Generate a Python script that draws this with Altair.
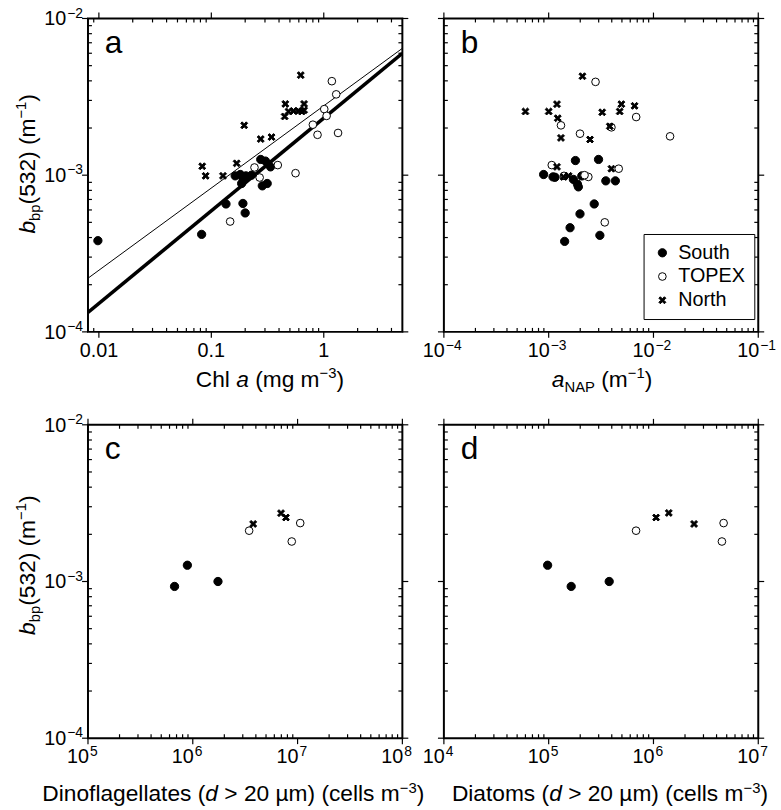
import altair as alt
import pandas as pd

FONT = "Liberation Sans"
W, H = 318, 317
YDOM = [1e-4, 1e-2]
REGIONS = ["South", "TOPEX", "North"]

# ---------------- data ----------------
# panel a : Chl a (mg m-3) vs bbp(532)
a_south_chl = [0.0098, 0.082, 0.135, 0.191, 0.200, 0.163, 0.181, 0.192, 0.203, 0.186, 0.228, 0.275, 0.303, 0.336, 0.284, 0.314]
a_south_bbp = [3.82e-4, 4.19e-4, 6.55e-4, 6.6e-4, 5.74e-4, 9.9e-4, 1.01e-3, 9.4e-4, 9.9e-4, 8.85e-4, 1.0e-3, 1.26e-3, 1.23e-3, 1.13e-3, 8.55e-4, 8.85e-4]
a_topex_chl = [0.147, 0.242, 0.269, 0.39, 0.561, 0.80, 0.88, 1.01, 1.06, 1.18, 1.29, 1.34]
a_topex_bbp = [5.06e-4, 1.12e-3, 9.66e-4, 1.16e-3, 1.03e-3, 2.1e-3, 1.81e-3, 2.64e-3, 2.39e-3, 3.98e-3, 3.28e-3, 1.86e-3]
a_north_chl = [0.083, 0.089, 0.127, 0.168, 0.196, 0.275, 0.343, 0.455, 0.449, 0.486, 0.538, 0.595, 0.637, 0.668, 0.668, 0.624]
a_north_bbp = [1.14e-3, 9.9e-4, 9.9e-4, 1.19e-3, 2.08e-3, 1.7e-3, 1.75e-3, 2.85e-3, 2.37e-3, 2.55e-3, 2.57e-3, 2.57e-3, 2.55e-3, 2.85e-3, 2.6e-3, 4.35e-3]
fit_chl = [0.008, 5.0]
fit_thick_bbp = [1.33e-4, 6.0e-3]
fit_thin_bbp = [2.2e-4, 6.45e-3]

# panel b : aNAP (m-1) vs bbp(532)
b_south_anap = [8.95e-4, 1.1e-3, 1.15e-3, 1.8e-3, 2.99e-3, 1.72e-3, 1.88e-3, 1.92e-3, 2.07e-3, 3.51e-3, 4.33e-3, 2.72e-3, 1.99e-3, 1.6e-3, 1.42e-3, 3.08e-3]
b_south_bbp = [1.01e-3, 9.75e-4, 9.7e-4, 1.24e-3, 1.26e-3, 9.4e-4, 8.77e-4, 8.42e-4, 9.89e-4, 9.2e-4, 9.2e-4, 6.55e-4, 5.66e-4, 4.62e-4, 3.78e-4, 4.13e-4]
b_topex_anap = [2.8e-3, 1.31e-3, 1.99e-3, 3.97e-3, 6.84e-3, 1.44e-2, 1.07e-3, 4.66e-3, 2.39e-3, 2.2e-3, 3.43e-3, 1.4e-3]
b_topex_bbp = [3.94e-3, 2.08e-3, 1.84e-3, 2.02e-3, 2.35e-3, 1.77e-3, 1.16e-3, 1.1e-3, 9.75e-4, 1.0e-3, 5.0e-4, 9.9e-4]
b_north_anap = [6.0e-4, 1.0e-3, 1.2e-3, 1.22e-3, 1.31e-3, 2.1e-3, 3.24e-3, 2.48e-3, 3.83e-3, 4.76e-3, 4.94e-3, 6.6e-3, 1.2e-3, 1.39e-3, 1.55e-3, 3.97e-3]
b_north_bbp = [2.55e-3, 2.55e-3, 2.84e-3, 2.31e-3, 1.73e-3, 4.28e-3, 2.52e-3, 1.69e-3, 2.05e-3, 2.55e-3, 2.84e-3, 2.77e-3, 1.13e-3, 9.75e-4, 9.9e-4, 1.1e-3]

# panel c : dinoflagellates (cells m-3) vs bbp(532)
c_south_dino = [6.7e5, 8.88e5, 1.74e6]
c_south_bbp = [9.3e-4, 1.27e-3, 1.0e-3]
c_topex_dino = [3.45e6, 8.8e6, 1.06e7]
c_topex_bbp = [2.11e-3, 1.8e-3, 2.36e-3]
c_north_dino = [3.77e6, 6.95e6, 7.74e6]
c_north_bbp = [2.33e-3, 2.73e-3, 2.56e-3]

# panel d : diatoms (cells m-3) vs bbp(532)
d_south_diat = [9.77e4, 1.64e5, 3.78e5]
d_south_bbp = [1.27e-3, 9.3e-4, 1.0e-3]
d_topex_diat = [6.82e5, 4.67e6, 4.5e6]
d_topex_bbp = [2.11e-3, 2.36e-3, 1.8e-3]
d_north_diat = [1.06e6, 1.4e6, 2.44e6]
d_north_bbp = [2.56e-3, 2.74e-3, 2.33e-3]

# tick labels
y_label_vals = [1e-2, 1e-3, 1e-4]
y_label_exps = ["\u22122", "\u22123", "\u22124"]
a_label_vals = [0.01, 0.1, 1]
a_label_txt = ["0.01", "0.1", "1"]
b_label_vals = [1e-4, 1e-3, 1e-2, 1e-1]
b_label_exps = ["\u22124", "\u22123", "\u22122", "\u22121"]
c_label_vals = [1e5, 1e6, 1e7, 1e8]
c_label_exps = ["5", "6", "7", "8"]
d_label_vals = [1e4, 1e5, 1e6, 1e7]
d_label_exps = ["4", "5", "6", "7"]

# ---------------- helpers ----------------
LS, ES, TS, SS = 20, 14, 23, 15
LY = H + 19
X_PATH = "M-1,-0.58L-0.58,-1L0,-0.42L0.58,-1L1,-0.58L0.42,0L1,0.58L0.58,1L0,0.42L-0.58,1L-1,0.58L-0.42,0Z"
ONE = pd.DataFrame({"k": [0]})

AW = {' ': 278, '(': 333, ')': 333, '>': 584, '\u2212': 584, '\u00b5': 576,
      'a': 556, 'b': 556, 'c': 500, 'd': 556, 'e': 556, 'f': 278, 'g': 556, 'h': 556, 'i': 222,
      'l': 222, 'm': 833, 'n': 556, 'o': 556, 'p': 556, 's': 500, 't': 278, 'u': 556,
      'A': 667, 'C': 722, 'D': 722, 'N': 722, 'P': 667}


def tw(s, size):
    return sum(AW.get(c, 556) for c in s) * size / 1000.0


def make_df(xs_list, ys_list):
    rows = []
    for reg, xs, ys in zip(REGIONS, xs_list, ys_list):
        for xv, yv in zip(xs, ys):
            rows.append({"x": xv, "y": yv, "region": reg})
    return pd.DataFrame(rows)


def ticks(lo, hi):
    major, minor = [], []
    for d in range(-6, 10):
        for m in range(1, 10):
            v = m * 10.0 ** d
            if m == 1 and lo / 1.0001 <= v <= hi * 1.0001:
                major.append(v)
            elif m > 1 and lo * 1.0001 < v < hi / 1.0001:
                minor.append(v)
    return major, minor


legend = alt.Legend(title=None, orient="none", legendX=562, legendY=218,
                    strokeColor="black", fillColor="white", padding=9,
                    labelFont=FONT, labelFontSize=20, labelColor="black",
                    labelOffset=6, rowPadding=4,
                    symbolStrokeColor="black", symbolStrokeWidth=1)


def title_layers(pieces, cx, cy, angle=0):
    offs, x = [], 0.0
    for txt, st in pieces:
        offs.append(x)
        x += tw(txt, SS if st in ("sub", "sup") else TS)
    total = x
    out = []
    for (txt, st), o in zip(pieces, offs):
        size = SS if st in ("sub", "sup") else TS
        lead = len(txt) - len(txt.lstrip(" "))
        shown = txt.strip(" ")
        kw = dict(text=shown, align="left", baseline="alphabetic", font=FONT,
                  fontSize=size, dx=o + tw(" " * lead, size) - total / 2,
                  dy={"sub": 5, "sup": -9}.get(st, 0), color="black")
        if st == "i":
            kw["fontStyle"] = "italic"
        if angle:
            kw["angle"] = angle
        out.append(alt.Chart(ONE).mark_text(**kw).encode(x=alt.value(cx), y=alt.value(cy)))
    return out


def panel(df, xdom, letter, xlabels, ylabels, xtitle, ytitle, extra=None):
    xsc = alt.Scale(type="log", domain=xdom, nice=False)
    ysc = alt.Scale(type="log", domain=YDOM, nice=False)
    layers = []
    if extra is not None:
        layers += extra(xsc, ysc)
    layers.append(
        alt.Chart(df).mark_point(opacity=1, strokeWidth=1).encode(
            x=alt.X("x:Q", scale=xsc, axis=None),
            y=alt.Y("y:Q", scale=ysc, axis=None),
            fill=alt.Fill("region:N", scale=alt.Scale(domain=REGIONS, range=["black", "white", "black"]), legend=legend),
            stroke=alt.Stroke("region:N", scale=alt.Scale(domain=REGIONS, range=["black", "black", "black"]), legend=legend),
            shape=alt.Shape("region:N", scale=alt.Scale(domain=REGIONS, range=["circle", "circle", X_PATH]), legend=legend),
            size=alt.Size("region:N", scale=alt.Scale(domain=REGIONS, range=[70, 50, 72]), legend=legend),
        )
    )
    # ticks
    xM, xm = ticks(*xdom)
    yM, ym = ticks(*YDOM)
    ex = alt.X("v:Q", scale=xsc, axis=None)
    ey = alt.Y("v:Q", scale=ysc, axis=None)
    dxM, dxm = pd.DataFrame({"v": xM}), pd.DataFrame({"v": xm})
    dyM, dym = pd.DataFrame({"v": yM}), pd.DataFrame({"v": ym})
    for y0, s in [(H, 1), (0, -1)]:
        layers.append(alt.Chart(dxM).mark_rule(color="black", strokeWidth=1.2).encode(
            x=ex, y=alt.value(y0), y2=alt.value(y0 + s * 6)))
        layers.append(alt.Chart(dxm).mark_rule(color="black", strokeWidth=1.2).encode(
            x=ex, y=alt.value(y0), y2=alt.value(y0 - s * 4)))
    for x0, s in [(0, -1), (W, 1)]:
        layers.append(alt.Chart(dyM).mark_rule(color="black", strokeWidth=1.2).encode(
            y=ey, x=alt.value(x0), x2=alt.value(x0 + s * 6)))
        layers.append(alt.Chart(dym).mark_rule(color="black", strokeWidth=1.2).encode(
            y=ey, x=alt.value(x0), x2=alt.value(x0 - s * 4)))
    # x labels
    kind, vals, txts = xlabels
    dfl = pd.DataFrame({"v": vals, "t": txts})
    if kind == "plain":
        layers.append(alt.Chart(dfl).mark_text(align="center", baseline="middle", font=FONT,
                                               fontSize=LS, color="black").encode(
            x=ex, y=alt.value(LY), text="t:N"))
    else:
        layers.append(alt.Chart(dfl).mark_text(text="10", align="right", baseline="middle", dx=1,
                                               font=FONT, fontSize=LS, color="black").encode(
            x=ex, y=alt.value(LY)))
        layers.append(alt.Chart(dfl).mark_text(align="left", baseline="middle", dx=2, dy=-5,
                                               font=FONT, fontSize=ES, color="black").encode(
            x=ex, y=alt.value(LY), text="t:N"))
    # y labels
    if ylabels:
        dfy = pd.DataFrame({"v": y_label_vals, "t": y_label_exps})
        layers.append(alt.Chart(dfy).mark_text(text="10", align="right", baseline="middle", dy=1,
                                               font=FONT, fontSize=LS, color="black").encode(
            y=ey, x=alt.value(-22)))
        layers.append(alt.Chart(dfy).mark_text(align="left", baseline="middle", dy=-5,
                                               font=FONT, fontSize=ES, color="black").encode(
            y=ey, x=alt.value(-21), text="t:N"))
    # panel letter
    layers.append(alt.Chart(ONE).mark_text(text=letter, align="left", baseline="alphabetic",
                                           font=FONT, fontSize=32, color="black").encode(
        x=alt.value(17), y=alt.value(35)))
    # titles
    layers += title_layers(*xtitle, angle=0)
    if ytitle is not None:
        layers += title_layers(*ytitle, angle=270)
    return alt.layer(*layers).properties(width=W, height=H)


def fit_lines(xsc, ysc):
    d1 = pd.DataFrame({"x": fit_chl, "y": fit_thick_bbp})
    d2 = pd.DataFrame({"x": fit_chl, "y": fit_thin_bbp})
    enc = dict(x=alt.X("x:Q", scale=xsc, axis=None), y=alt.Y("y:Q", scale=ysc, axis=None))
    return [alt.Chart(d2).mark_line(color="black", strokeWidth=1, clip=True).encode(**enc),
            alt.Chart(d1).mark_line(color="black", strokeWidth=3.6, clip=True).encode(**enc)]


Y_TITLE = [("b", "i"), ("bp", "sub"), ("(532) (m", "n"), ("\u22121", "sup"), (")", "n")]
XA = [("Chl ", "n"), ("a", "i"), (" (mg m", "n"), ("\u22123", "sup"), (")", "n")]
XB = [("a", "i"), ("NAP", "sub"), (" (m", "n"), ("\u22121", "sup"), (")", "n")]
XC = [("Dinoflagellates (", "n"), ("d", "i"), (" > 20 \u00b5m) (cells m", "n"), ("\u22123", "sup"), (")", "n")]
XD = [("Diatoms (", "n"), ("d", "i"), (" > 20 \u00b5m) (cells m", "n"), ("\u22123", "sup"), (")", "n")]

pa = panel(make_df([a_south_chl, a_topex_chl, a_north_chl], [a_south_bbp, a_topex_bbp, a_north_bbp]),
           [0.008, 5.0], "a", ("plain", a_label_vals, a_label_txt), True,
           (XA, 184, H + 56), (Y_TITLE, -54, 147), extra=fit_lines)
pb = panel(make_df([b_south_anap, b_topex_anap, b_north_anap], [b_south_bbp, b_topex_bbp, b_north_bbp]),
           [1e-4, 1e-1], "b", ("pow", b_label_vals, b_label_exps), False,
           (XB, 160, H + 56), None)
pc = panel(make_df([c_south_dino, c_topex_dino, c_north_dino], [c_south_bbp, c_topex_bbp, c_north_bbp]),
           [1e5, 1e8], "c", ("pow", c_label_vals, c_label_exps), True,
           (XC, 147, H + 64), (Y_TITLE, -54, 142))
pd_ = panel(make_df([d_south_diat, d_topex_diat, d_north_diat], [d_south_bbp, d_topex_bbp, d_north_bbp]),
            [1e4, 1e7], "d", ("pow", d_label_vals, d_label_exps), False,
            (XD, 168, H + 64), None)

chart = alt.concat(pa, pb, pc, pd_, columns=2, spacing={"row": 94, "column": 42}, bounds="flush").resolve_scale(
    x="independent", y="independent", fill="shared", stroke="shared", shape="shared", size="shared"
).properties(
    padding={"left": 13, "top": 1, "right": 4, "bottom": 4}, background="white"
).configure_view(stroke="black", strokeWidth=2)

chart.save("out.html", embed_options={"renderer": "svg", "actions": False})
